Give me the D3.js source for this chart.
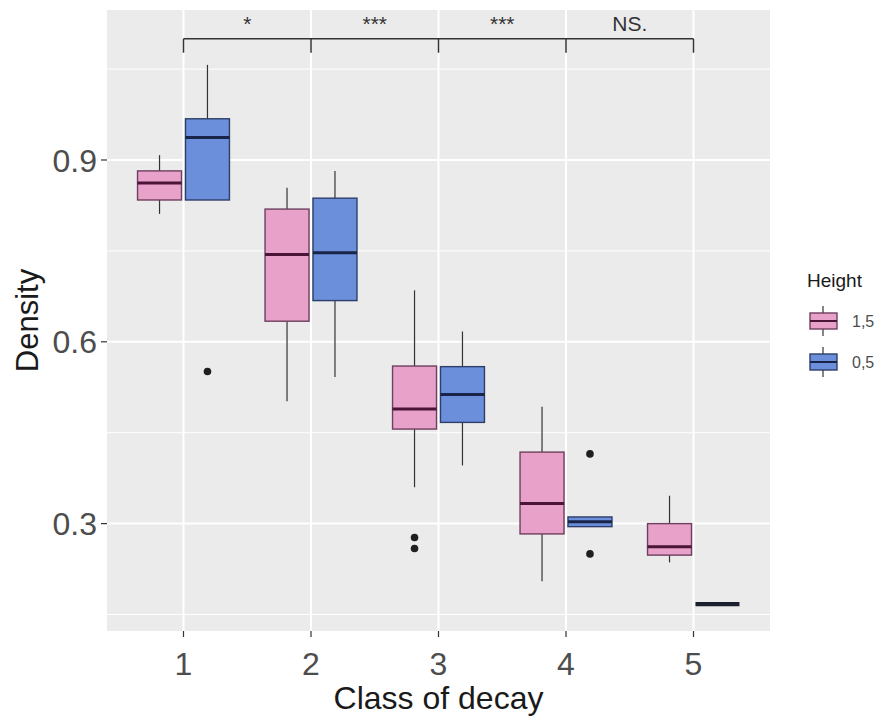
<!DOCTYPE html>
<html>
<head>
<meta charset="utf-8">
<script src="https://cdn.jsdelivr.net/npm/d3@7"></script>
<style>
  html, body { margin: 0; padding: 0; background: #ffffff; }
  svg { display: block; font-family: "Liberation Sans", Arial, sans-serif; }
</style>
</head>
<body>
<svg id="chart" width="889" height="720"></svg>
<script>
// Decay classes along the x axis
const classes = ["1", "2", "3", "4", "5"];
// Sampling heights (legend order)
const heights = ["1,5", "0,5"];

// Box statistics per class: [lower whisker, Q1, median, Q3, upper whisker]
const statsHigh = [
  [0.811, 0.834, 0.862, 0.882, 0.908],
  [0.502, 0.634, 0.744, 0.819, 0.854],
  [0.360, 0.456, 0.489, 0.560, 0.685],
  [0.205, 0.283, 0.333, 0.418, 0.493],
  [0.236, 0.248, 0.262, 0.300, 0.346]
];
const statsLow = [
  [0.834, 0.834, 0.937, 0.968, 1.057],
  [0.542, 0.668, 0.747, 0.837, 0.882],
  [0.396, 0.467, 0.513, 0.559, 0.617],
  [0.295, 0.295, 0.303, 0.311, 0.311],
  [0.167, 0.167, 0.167, 0.167, 0.167]
];
// Outlying observations per class
const outliersHigh = [[], [], [0.277, 0.259], [], []];
const outliersLow = [[0.551], [], [], [0.415, 0.250], []];

// Pairwise comparisons between neighbouring classes
const sigLabels = ["*", "***", "***", "NS."];
const bracketLevel = 1.10;
const bracketTickEnd = 1.077;

// Y axis ticks
const majorTicks = [0.3, 0.6, 0.9];
const minorTicks = [0.15, 0.45, 0.75, 1.05];

const fills = ["#E8A1C9", "#6B8FDA"];
const strokes = ["#6E3F5E", "#2E3E6A"];
const medianCol = ["#4A1536", "#19244A"];

const panel = { left: 107, right: 770, top: 10, bottom: 631 };

const svg = d3.select("#chart");

const x = d3.scalePoint().domain(classes).range([panel.left, panel.right]).padding(0.6);
const y = d3.scaleLinear().domain([0.1228, 1.1475]).range([panel.bottom, panel.top]);

const dodge = x.step() * 0.188;
const boxW = x.step() * 0.345;

// Panel background and grid
svg.append("rect")
  .attr("x", panel.left).attr("y", panel.top)
  .attr("width", panel.right - panel.left).attr("height", panel.bottom - panel.top)
  .attr("fill", "#EBEBEB");

const grid = svg.append("g");
grid.selectAll("line.minor").data(minorTicks).join("line")
  .attr("x1", panel.left).attr("x2", panel.right)
  .attr("y1", d => y(d)).attr("y2", d => y(d))
  .attr("stroke", "#ffffff").attr("stroke-width", 1);
grid.selectAll("line.major").data(majorTicks).join("line")
  .attr("x1", panel.left).attr("x2", panel.right)
  .attr("y1", d => y(d)).attr("y2", d => y(d))
  .attr("stroke", "#ffffff").attr("stroke-width", 2);
grid.selectAll("line.vx").data(classes).join("line")
  .attr("y1", panel.top).attr("y2", panel.bottom)
  .attr("x1", d => x(d)).attr("x2", d => x(d))
  .attr("stroke", "#ffffff").attr("stroke-width", 2);

// Boxplots
const series = [
  { stats: statsHigh, out: outliersHigh, off: -dodge },
  { stats: statsLow, out: outliersLow, off: dodge }
];
series.forEach((s, si) => {
  const g = svg.append("g");
  s.stats.forEach((st, i) => {
    const cx = x(classes[i]) + s.off;
    const [lo, q1, med, q3, hi] = st;
    g.append("line").attr("x1", cx).attr("x2", cx).attr("y1", y(hi)).attr("y2", y(q3))
      .attr("stroke", "#333333").attr("stroke-width", 1.2);
    g.append("line").attr("x1", cx).attr("x2", cx).attr("y1", y(q1)).attr("y2", y(lo))
      .attr("stroke", "#333333").attr("stroke-width", 1.2);
    const h = y(q1) - y(q3);
    if (h > 0) {
      g.append("rect")
        .attr("x", cx - boxW / 2).attr("width", boxW)
        .attr("y", y(q3)).attr("height", h)
        .attr("fill", fills[si]).attr("stroke", strokes[si]).attr("stroke-width", 1.4);
      g.append("line").attr("x1", cx - boxW / 2).attr("x2", cx + boxW / 2)
        .attr("y1", y(med)).attr("y2", y(med))
        .attr("stroke", medianCol[si]).attr("stroke-width", 3);
    } else {
      // a collapsed box: outline and median fall on the same line
      g.append("line").attr("x1", cx - boxW / 2).attr("x2", cx + boxW / 2)
        .attr("y1", y(med)).attr("y2", y(med))
        .attr("stroke", "#1c1f2e").attr("stroke-width", 4.2);
    }
    s.out[i].forEach(v => {
      g.append("circle").attr("cx", cx).attr("cy", y(v)).attr("r", 3.8).attr("fill", "#1f1f1f");
    });
  });
});

// Significance bracket
const br = svg.append("g").attr("stroke", "#333333").attr("stroke-width", 1.5);
br.append("line").attr("x1", x(classes[0])).attr("x2", x(classes[4]))
  .attr("y1", y(bracketLevel)).attr("y2", y(bracketLevel));
br.selectAll("line.t").data(classes).join("line")
  .attr("x1", d => x(d)).attr("x2", d => x(d))
  .attr("y1", y(bracketLevel)).attr("y2", y(bracketTickEnd));
svg.append("g").selectAll("text").data(sigLabels).join("text")
  .attr("x", (d, i) => (x(classes[i]) + x(classes[i + 1])) / 2)
  .attr("y", 31)
  .attr("text-anchor", "middle")
  .attr("font-size", 21)
  .attr("fill", "#333333")
  .text(d => d);

// Axes
const yAxis = svg.append("g");
yAxis.selectAll("line").data(majorTicks).join("line")
  .attr("x1", panel.left - 6).attr("x2", panel.left)
  .attr("y1", d => y(d)).attr("y2", d => y(d))
  .attr("stroke", "#333333").attr("stroke-width", 1.2);
yAxis.selectAll("text").data(majorTicks).join("text")
  .attr("x", panel.left - 10).attr("y", d => y(d))
  .attr("dy", "0.36em").attr("text-anchor", "end")
  .attr("font-size", 32).attr("fill", "#4D4D4D")
  .text(d => d3.format(".1f")(d));

const xAxis = svg.append("g");
xAxis.selectAll("line").data(classes).join("line")
  .attr("x1", d => x(d)).attr("x2", d => x(d))
  .attr("y1", panel.bottom).attr("y2", panel.bottom + 6)
  .attr("stroke", "#333333").attr("stroke-width", 1.2);
xAxis.selectAll("text").data(classes).join("text")
  .attr("x", d => x(d)).attr("y", panel.bottom + 44)
  .attr("text-anchor", "middle")
  .attr("font-size", 32).attr("fill", "#4D4D4D")
  .text(d => d);

svg.append("text")
  .attr("x", (panel.left + panel.right) / 2).attr("y", 709)
  .attr("text-anchor", "middle").attr("font-size", 32).attr("fill", "#1a1a1a")
  .text("Class of decay");
svg.append("text")
  .attr("transform", `translate(38,${(panel.top + panel.bottom) / 2}) rotate(-90)`)
  .attr("text-anchor", "middle").attr("font-size", 31).attr("fill", "#1a1a1a")
  .text("Density");

// Legend
const lg = svg.append("g").attr("transform", "translate(806,268)");
lg.append("text").attr("x", 1).attr("y", 19).attr("font-size", 19).attr("fill", "#1a1a1a").text("Height");
heights.forEach((h, i) => {
  const ky = 38 + i * 41;
  const k = lg.append("g").attr("transform", `translate(2,${ky})`);
  k.append("line").attr("x1", 15).attr("x2", 15).attr("y1", 0).attr("y2", 30)
    .attr("stroke", "#333333").attr("stroke-width", 1.2);
  k.append("rect").attr("x", 2).attr("y", 7).attr("width", 27).attr("height", 16)
    .attr("fill", fills[i]).attr("stroke", strokes[i]).attr("stroke-width", 1.4);
  k.append("line").attr("x1", 2).attr("x2", 29).attr("y1", 15).attr("y2", 15)
    .attr("stroke", medianCol[i]).attr("stroke-width", 2);
  lg.append("text").attr("x", 46).attr("y", ky + 15).attr("dy", "0.36em")
    .attr("font-size", 16).attr("fill", "#4D4D4D").text(h);
});
</script>
</body>
</html>
